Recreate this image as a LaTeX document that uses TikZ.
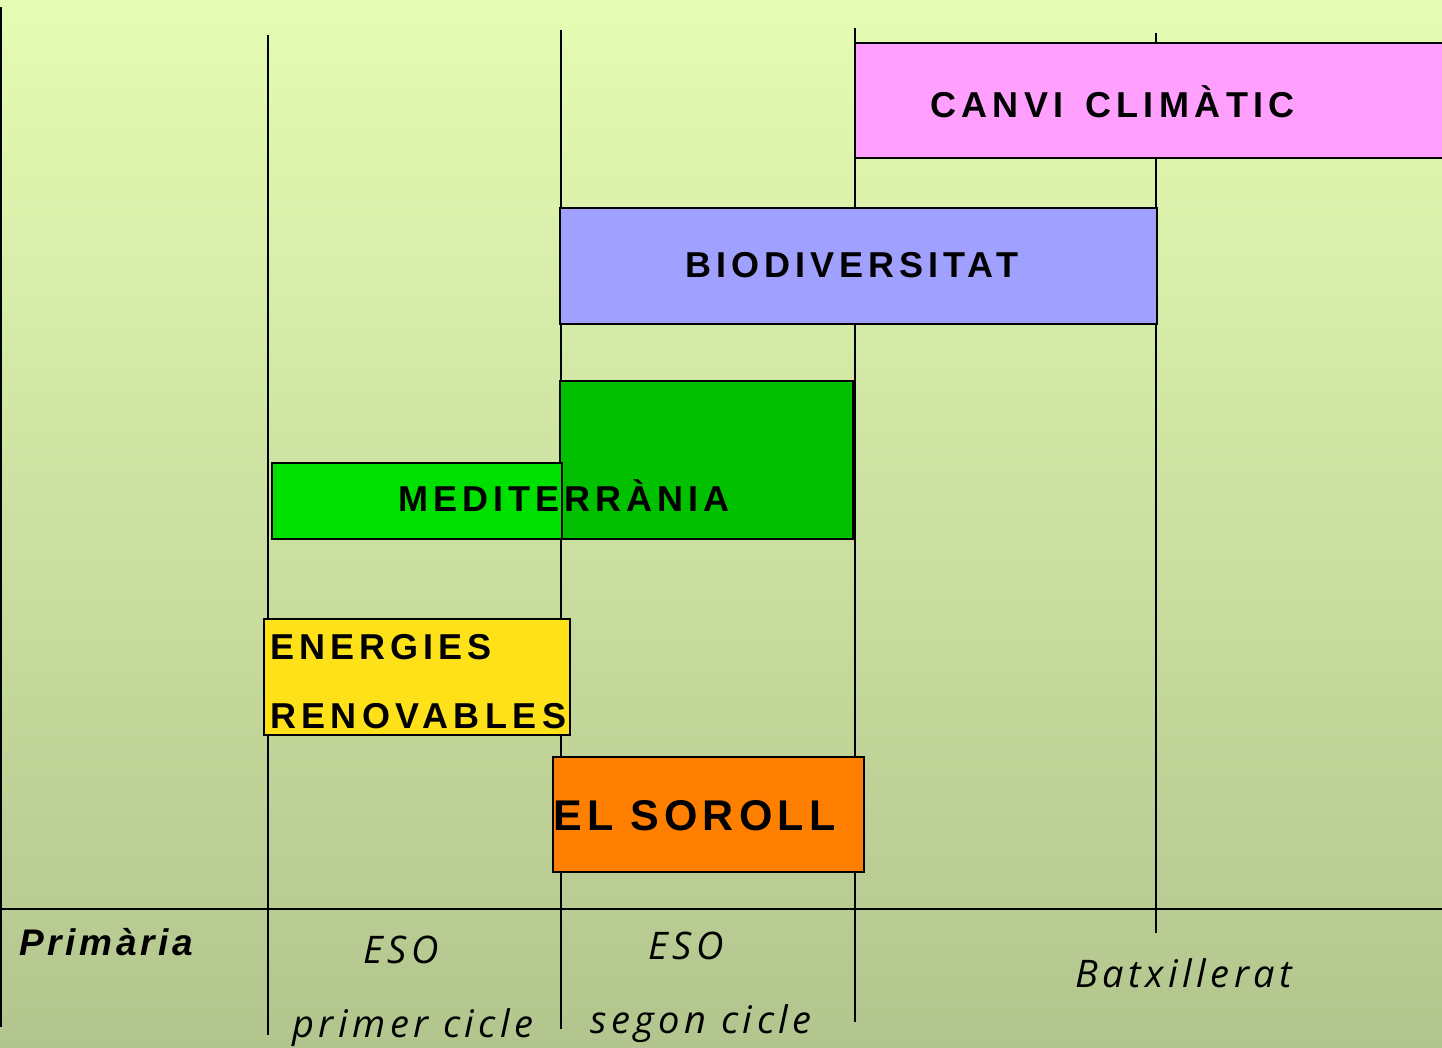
\documentclass[tikz,border=0pt]{standalone}
\usepackage{fontspec}
\setmainfont{Liberation Sans}
\newfontfamily\boxfont[LetterSpace=15]{Liberation Sans}
\newfontfamily\comicfont[LetterSpace=12]{Open Sans}
\definecolor{bgtop}{HTML}{E5FCB4}
\definecolor{bgbot}{HTML}{B2C58E}
\definecolor{cpink}{HTML}{FFA0FF}
\definecolor{cblue}{HTML}{A0A0FF}
\definecolor{cgreenD}{HTML}{00C000}
\definecolor{cgreenL}{HTML}{00E000}
\definecolor{cyellow}{HTML}{FFE11A}
\definecolor{corange}{HTML}{FF8000}
\tikzset{
  vline/.style={draw=black, line width=2pt},
  tbox/.style={draw=black, line width=2pt},
  blabel/.style={anchor=base west, inner sep=0pt, font=\boxfont\bfseries\fontsize{36}{40}\selectfont},
  clabel/.style={anchor=base west, inner sep=0pt, font=\comicfont\itshape\fontsize{38}{42}\selectfont},
}
\begin{document}
\begin{tikzpicture}[x=1pt,y=-1pt]
\useasboundingbox (0,0) rectangle (1442,1048);
\clip (0,0) rectangle (1442,1048);
\shade[top color=bgtop, bottom color=bgbot] (0,0) rectangle (1442,1048);
% vertical lines
\coordinate (v0t) at (1,7);    \coordinate (v0b) at (1,1027);
\coordinate (v1t) at (268,35); \coordinate (v1b) at (268,1035);
\coordinate (v2t) at (561,30); \coordinate (v2b) at (561,1029);
\coordinate (v3t) at (855,28); \coordinate (v3b) at (855,1022);
\coordinate (v4t) at (1156,33);\coordinate (v4b) at (1156,933);
\coordinate (hl) at (0,909);   \coordinate (hr) at (1442,909);
\draw[vline] (v0t) -- (v0b);
\draw[vline] (v1t) -- (v1b);
\draw[vline] (v2t) -- (v2b);
\draw[vline] (v3t) -- (v3b);
\draw[vline] (v4t) -- (v4b);
\draw[vline] (hl) -- (hr);
% boxes
\draw[tbox, fill=cpink] (855,43) rectangle (1460,158);
\draw[tbox, fill=cblue] (560,208) rectangle (1157,324);
\draw[tbox, fill=cgreenD] (560,381) rectangle (853,539);
\draw[tbox, fill=cgreenL] (272,463) rectangle (562,539);
\draw[tbox, fill=cyellow] (264,619) rectangle (570,735);
\draw[tbox, fill=corange] (553,757) rectangle (864,872);
% box labels
\node[blabel] (canvi) at (930,118) {CANVI\hspace{6pt} CLIMÀTIC};
\node[blabel, font=\boxfont\bfseries\fontsize{36}{40}\selectfont\addfontfeature{LetterSpace=14}] (bio) at (685,278) {BIODIVERSITAT};
\node[blabel, font=\boxfont\bfseries\fontsize{36}{40}\selectfont\addfontfeature{LetterSpace=14}] (med) at (398,511) {MEDITERRÀNIA};
\node[blabel, font=\boxfont\bfseries\fontsize{36}{40}\selectfont\addfontfeature{LetterSpace=14}] (ene) at (270,659) {ENERGIES};
\node[blabel] (ren) at (270,728) {RENOVABLES};
\node[blabel, font=\boxfont\bfseries\fontsize{43}{48}\selectfont\addfontfeature{LetterSpace=12}] (sor) at (553,830) {EL SOROLL};
% stage labels
\node[blabel, font=\boxfont\bfseries\itshape\fontsize{37}{40}\selectfont\addfontfeature{LetterSpace=10}] (prim) at (19,955) {Primària};
\node[clabel] (eso1) at (363,963) {ESO};
\node[clabel] (pc) at (292,1037) {primer cicle};
\node[clabel] (eso2) at (648,959) {ESO};
\node[clabel] (sc) at (590,1033) {segon cicle};
\node[clabel] (bat) at (1075,987) {Batxillerat};
\end{tikzpicture}
\end{document}
